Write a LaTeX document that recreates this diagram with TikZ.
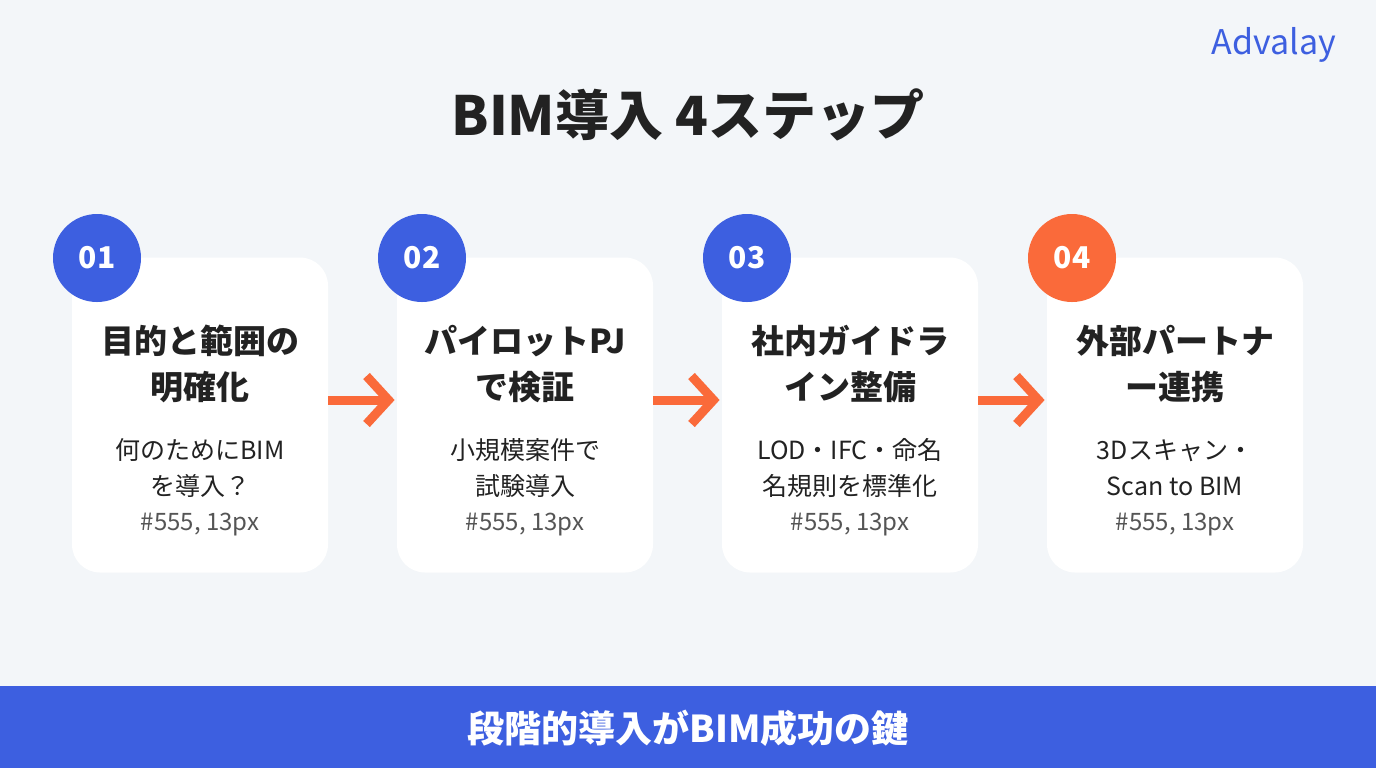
\documentclass[tikz,border=0pt]{standalone}
\usepackage{fontspec}
\setmainfont{Noto Sans CJK JP}
\usetikzlibrary{positioning,arrows.meta}
\definecolor{bgc}{HTML}{F3F6F9}
\definecolor{blu}{HTML}{3D5FE0}
\definecolor{org}{HTML}{FA6A3A}
\definecolor{ink}{HTML}{222222}
\definecolor{gry}{HTML}{555555}
\tikzset{
  card/.style={fill=white, rounded corners=14pt, minimum width=128pt, minimum height=157.5pt, inner sep=0pt},
  badge/.style={circle, fill=#1, minimum size=44pt, inner sep=0pt, text=white, font=\bfseries\fontsize{15}{15}\selectfont},
  head/.style={text=ink, align=center, font=\bfseries\fontsize{16.5}{23}\selectfont},
  body/.style={text=ink, align=center, font=\fontsize{12.5}{18}\selectfont},
  note/.style={text=gry, font=\fontsize{12}{14}\selectfont},
  flow/.style={draw=org, line width=4.5pt, -{Straight Barb[length=11pt,width=24pt,line width=4.5pt]}}
}
\begin{document}
\begin{tikzpicture}[x=0.5pt,y=-0.5pt]
  \fill[bgc] (0,0) rectangle (1376,768);
  \useasboundingbox (0,0) rectangle (1376,768);
  % title and logo
  \node[text=ink, font=\bfseries\fontsize{27}{27}\selectfont] (title) at (688,115) {BIM導入 4ステップ};
  \node[text=blu, font=\fontsize{17}{17}\selectfont] (logo) at (1274,45) {Advalay};
  % cards
  \node[card] (c1) at (200,415) {};
  \node[card] (c2) at (525,415) {};
  \node[card] (c3) at (850,415) {};
  \node[card] (c4) at (1175,415) {};
  \node[badge=blu] (b1) at (97,258) {01};
  \node[badge=blu] (b2) at (422,258) {02};
  \node[badge=blu] (b3) at (747,258) {03};
  \node[badge=org] (b4) at (1072,258) {04};
  \node[head] (h1) at (200,364) {目的と範囲の\\明確化};
  \node[head] (h2) at (525,364) {パイロットPJ\\で検証};
  \node[head] (h3) at (850,364) {社内ガイドラ\\イン整備};
  \node[head] (h4) at (1175,364) {外部パートナ\\ー連携};
  \node[body] (t1) at (200,468) {何のためにBIM\\を導入？};
  \node[body] (t2) at (525,468) {小規模案件で\\試験導入};
  \node[body] (t3) at (850,468) {LOD・IFC・命名\\名規則を標準化};
  \node[body] (t4) at (1175,468) {3Dスキャン・\\Scan to BIM};
  \foreach \i/\x in {1/200,2/525,3/850,4/1175}
    \node[note] (n\i) at (\x,525) {\#555, 13px};
  % arrows
  \draw[flow] ([yshift=7.5pt]c1.east) -- ([yshift=7.5pt,xshift=-1pt]c2.west);
  \draw[flow] ([yshift=7.5pt]c2.east) -- ([yshift=7.5pt,xshift=-1pt]c3.west);
  \draw[flow] ([yshift=7.5pt]c3.east) -- ([yshift=7.5pt,xshift=-1pt]c4.west);
  % footer
  \fill[blu] (0,686) rectangle (1376,768);
  \node[text=white, font=\bfseries\fontsize{18.5}{18.5}\selectfont] (foot) at (688,728) {段階的導入がBIM成功の鍵};
\end{tikzpicture}
\end{document}
